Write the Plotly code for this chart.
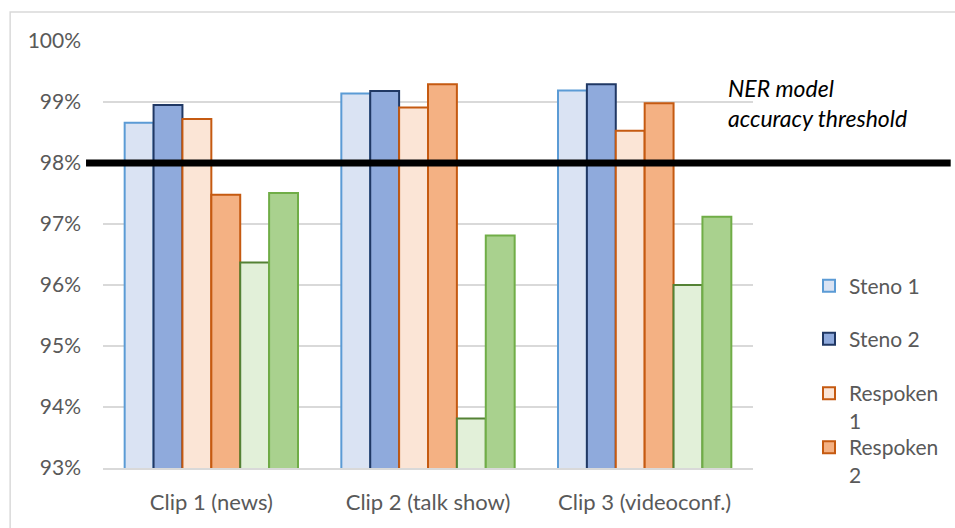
import plotly.graph_objects as go

categories = ["Clip 1 (news)", "Clip 2 (talk show)", "Clip 3 (videoconf.)"]
series_names = ["Steno 1", "Steno 2", "Respoken<br>1", "Respoken<br>2", "Series 5", "Series 6"]
steno1 = [98.66, 99.14, 99.19]
steno2 = [98.95, 99.18, 99.29]
respoken1 = [98.72, 98.91, 98.53]
respoken2 = [97.48, 99.29, 98.98]
series5 = [96.37, 93.81, 96.00]
series6 = [97.51, 96.81, 97.12]
threshold = 98.0
threshold_label = "NER model<br>accuracy threshold"
y_ticks = [93, 94, 95, 96, 97, 98, 99, 100]
y_tick_labels = ["93%", "94%", "95%", "96%", "97%", "98%", "99%", "100%"]

values = [steno1, steno2, respoken1, respoken2, series5, series6]
fills = ["#dae3f3", "#8faadc", "#fbe5d6", "#f4b183", "#e2f0d9", "#a9d18e"]
borders = ["#5b9bd5", "#203864", "#c55a11", "#c55a11", "#548235", "#70ad47"]
legends = ["legend", "legend2", "legend3", "legend4", None, None]

FONT = "Lato, 'DejaVu Sans', sans-serif"
GREY = "#595959"

fig = go.Figure()
for name, vals, fc, bc, lg in zip(series_names, values, fills, borders, legends):
    kw = dict(legend=lg, showlegend=True) if lg else dict(showlegend=False)
    fig.add_trace(go.Bar(
        x=categories, y=vals, name=name,
        marker=dict(color=fc, line=dict(color=bc, width=2)),
        **kw,
    ))

W, H = 955, 528
L, R, T, B = 103, 201, 41, 60
pw, ph = W - L - R, H - T - B

def px_x(p):
    return (p - L) / pw

def px_y(p):
    return (H - B - p) / ph

leg_common = dict(
    xanchor="left", yanchor="middle", valign="top",
    font=dict(family=FONT, size=21, color=GREY),
    bgcolor="rgba(0,0,0,0)", borderwidth=0, itemwidth=30,
)
leg_y = [286, 339, 407, 461]
layout_legends = {}
for i, yy in enumerate(leg_y):
    key = "legend" if i == 0 else f"legend{i+1}"
    layout_legends[key] = dict(x=px_x(809), y=px_y(yy), **leg_common)

fig.update_layout(
    width=W, height=H,
    margin=dict(l=L, r=R, t=T, b=B, pad=0),
    paper_bgcolor="white", plot_bgcolor="white",
    barmode="group", bargap=0.2, bargroupgap=0,
    font=dict(family=FONT, size=21, color=GREY),
    xaxis=dict(showgrid=False, showline=True, linecolor="#d9d9d9", linewidth=1.5,
               ticks="", tickfont=dict(family=FONT, size=22, color=GREY),
               ticklabelstandoff=14),
    yaxis=dict(range=[93, 100], tickvals=y_ticks, ticktext=y_tick_labels,
               showgrid=True, gridcolor="#d9d9d9", gridwidth=1.5,
               zeroline=False, showline=False, ticks="",
               tickfont=dict(family=FONT, size=21, color=GREY),
               ticklabelstandoff=21),
    **layout_legends,
)

# outer chart border
fig.add_shape(type="rect", xref="paper", yref="paper",
              x0=px_x(10), x1=px_x(1200), y0=px_y(800), y1=px_y(12),
              line=dict(color="#d9d9d9", width=1.5), fillcolor="rgba(0,0,0,0)",
              layer="below")
# threshold line
fig.add_shape(type="line", xref="paper", yref="y",
              x0=px_x(86), x1=px_x(952), y0=threshold, y1=threshold,
              line=dict(color="black", width=7), layer="above")
fig.add_annotation(xref="paper", yref="paper", x=px_x(727), y=px_y(103),
                   xanchor="left", yanchor="middle", align="left",
                   text=threshold_label, showarrow=False,
                   font=dict(family=FONT, size=23, color="black", style="italic"))

fig.write_html("out.html")
